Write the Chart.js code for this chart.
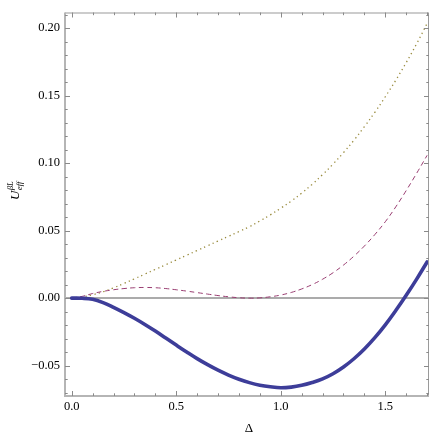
<!DOCTYPE html>
<html><head><meta charset="utf-8">
<script src="https://cdn.jsdelivr.net/npm/chart.js@4.4.1/dist/chart.umd.min.js"></script>
<style>html,body{margin:0;padding:0;background:#fff}#wrap{width:436px;height:436px}</style>
</head><body><div id="wrap"><canvas id="c" width="436" height="436"></canvas></div>
<script>
// ---- data ----
const delta = [0,0.05,0.1,0.15,0.2,0.25,0.3,0.35,0.4,0.45,0.5,0.55,0.6,0.65,0.7,0.75,0.8,0.85,0.9,0.95,1.0,1.05,1.1,1.15,1.2,1.25,1.3,1.35,1.4,1.45,1.5,1.55,1.6,1.65,1.7];
const uSolid = [0,-0.0001,-0.0009,-0.0033,-0.0068,-0.0107,-0.0149,-0.0195,-0.0244,-0.0296,-0.0348,-0.0399,-0.0448,-0.0493,-0.0534,-0.0570,-0.0601,-0.0626,-0.0645,-0.0657,-0.0664,-0.0659,-0.0646,-0.0625,-0.0598,-0.0560,-0.0510,-0.0449,-0.0377,-0.0293,-0.0198,-0.0092,0.0021,0.0141,0.0268];
const uDashed = [0,0.0013,0.0034,0.0050,0.0062,0.0071,0.0077,0.0079,0.0077,0.0071,0.0062,0.0052,0.0041,0.0030,0.0019,0.0010,0.0003,0.0000,0.0002,0.0010,0.0023,0.0042,0.0068,0.0100,0.0140,0.0188,0.0245,0.0311,0.0386,0.0471,0.0566,0.0676,0.0797,0.0925,0.1058];
const uDotted = [0,0.0008,0.0025,0.0047,0.0076,0.0109,0.0143,0.0178,0.0213,0.0248,0.0283,0.0318,0.0353,0.0388,0.0423,0.0458,0.0493,0.0529,0.0572,0.0617,0.0666,0.0719,0.0778,0.0843,0.0915,0.0993,0.1078,0.1170,0.1270,0.1377,0.1492,0.1614,0.1745,0.1885,0.2035];
const xTicks = [0, 0.5, 1.0, 1.5];
const yTicks = [-0.05, 0, 0.05, 0.10, 0.15, 0.20];
const xTitle = 'Δ';
const yTitleMain = 'U', yTitleSup = 'βL', yTitleSub = 'eff';

const pts = arr => delta.map((d,i)=>({x:d, y:arr[i]}));
const SERIF = '"Liberation Serif", "Times New Roman", serif';

const framePlugin = {
  id:'frame',
  beforeDatasetsDraw(chart){
    const {ctx, chartArea:a, scales:{x,y}} = chart;
    ctx.save();
    const y0 = Math.round(y.getPixelForValue(0));
    ctx.strokeStyle = '#ababab'; ctx.lineWidth = 2.2;
    ctx.beginPath(); ctx.moveTo(a.left, y0); ctx.lineTo(a.right, y0); ctx.stroke();
    ctx.restore();
  },
  afterDraw(chart){
    const {ctx, chartArea:a, scales:{x,y}} = chart;
    ctx.save();
    ctx.strokeStyle = '#9a9a9a'; ctx.lineWidth = 1;
    ctx.strokeRect(a.left+0.5, a.top+0.5, a.right-a.left-1, a.bottom-a.top-1);
    ctx.strokeStyle = '#b5b5b5'; ctx.lineWidth = 2;
    ctx.beginPath(); ctx.moveTo(a.left, a.top); ctx.lineTo(a.left, a.bottom); ctx.lineTo(a.right, a.bottom); ctx.stroke();
    ctx.strokeStyle = '#8a8a8a'; ctx.lineWidth = 1;
    ctx.beginPath();
    for (let k = 0; k <= 17; k++) {
      const v = k/10, px = Math.round(x.getPixelForValue(v)) + 0.5;
      const L = (k % 5 === 0) ? 5 : 2.7;
      ctx.moveTo(px, a.bottom); ctx.lineTo(px, a.bottom - L);
      ctx.moveTo(px, a.top); ctx.lineTo(px, a.top + L);
    }
    for (let k = -7; k <= 21; k++) {
      const v = k/100, py = Math.round(y.getPixelForValue(v)) + 0.5;
      const L = (k % 5 === 0) ? 5 : 2.7;
      ctx.moveTo(a.left, py); ctx.lineTo(a.left + L, py);
      ctx.moveTo(a.right, py); ctx.lineTo(a.right - L, py);
    }
    ctx.stroke();
    ctx.fillStyle = '#000';
    ctx.font = '13px ' + SERIF;
    ctx.textAlign = 'center'; ctx.textBaseline = 'alphabetic';
    ctx.fillText(xTitle, (a.left + a.right)/2 + 2, 432);
    ctx.translate(19, 200);
    ctx.rotate(-Math.PI/2);
    ctx.textAlign = 'left';
    ctx.font = 'italic 13px ' + SERIF;
    ctx.fillText(yTitleMain, 0, 0);
    const w = ctx.measureText(yTitleMain).width;
    ctx.font = 'italic 8.5px ' + SERIF;
    ctx.fillText(yTitleSup, w + 0.5, -6.5);
    ctx.fillText(yTitleSub, w + 0.5, 2.5);
    ctx.restore();
  }
};

const fmt = (v, d) => (v < 0 ? '\u2212' : '') + Math.abs(v).toFixed(d);

new Chart(document.getElementById('c'), {
  type: 'line',
  data: {
    datasets: [
      { label:'solid', data: pts(uSolid), borderColor:'#3d3d99', borderWidth:3.6, pointRadius:0, fill:false, tension:0.4, borderCapStyle:'round' },
      { label:'dashed', data: pts(uDashed), borderColor:'#993d71', borderWidth:1, borderDash:[5,3.5], pointRadius:0, fill:false, tension:0.4 },
      { label:'dotted', data: pts(uDotted), borderColor:'#998b3d', borderWidth:1.3, borderDash:[1.3,3.3], pointRadius:0, fill:false, tension:0.4 }
    ]
  },
  options: {
    responsive:false, animation:false, devicePixelRatio:1,
    layout:{ padding:{ top:3, right:7, left:0, bottom:0 } },
    plugins:{ legend:{display:false}, tooltip:{enabled:false} },
    scales:{
      x:{ type:'linear', min:-0.032, max:1.709,
        grid:{display:false, drawTicks:false}, border:{display:false},
        afterBuildTicks: s => { s.ticks = xTicks.map(v=>({value:v})); },
        ticks:{ padding:3, color:'#000', font:{family:SERIF, size:12.5}, maxRotation:0, autoSkip:false, callback: v => fmt(v,1) },
        afterFit: s => { s.height = 40; } },
      y:{ type:'linear', min:-0.0725, max:0.2116,
        grid:{display:false, drawTicks:false}, border:{display:false},
        afterBuildTicks: s => { s.ticks = yTicks.map(v=>({value:v})); },
        ticks:{ padding:5, color:'#000', font:{family:SERIF, size:12.5}, autoSkip:false, callback: v => fmt(v,2) },
        afterFit: s => { s.width = 65; } }
    }
  },
  plugins:[framePlugin]
});
</script></body></html>
